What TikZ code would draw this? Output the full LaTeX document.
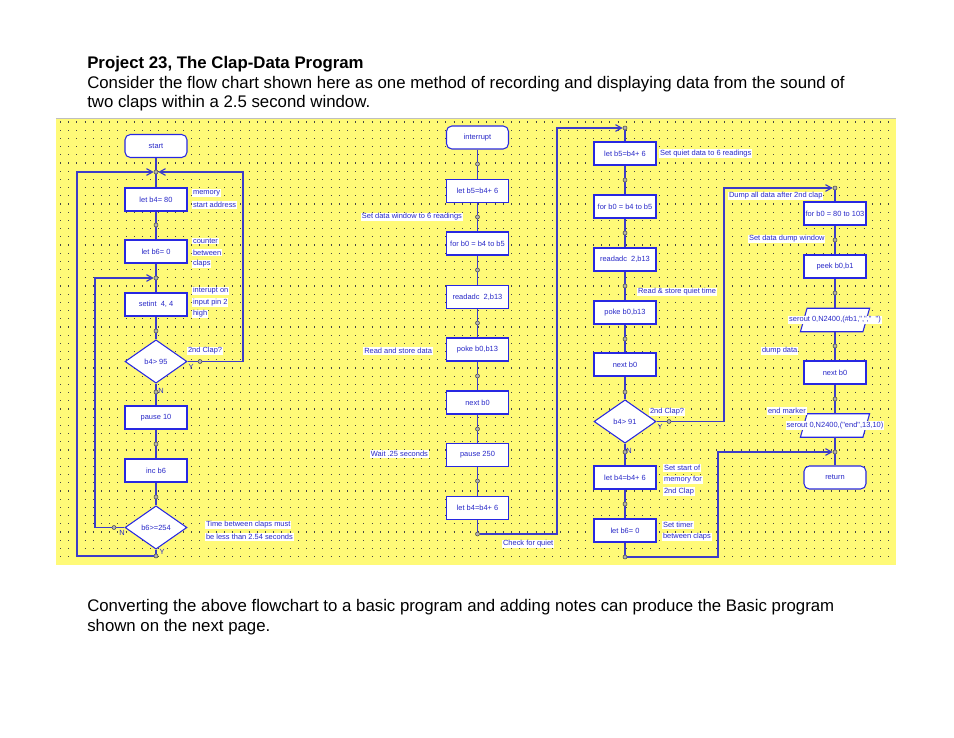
\documentclass[tikz,border=0pt]{standalone}
\usepackage{fontspec}
\setmainfont{Liberation Sans}
\usetikzlibrary{shapes.geometric,arrows.meta}
\definecolor{bgy}{RGB}{255,250,120}
\definecolor{ln}{RGB}{60,60,200}
\definecolor{bx}{RGB}{40,40,225}
\definecolor{tx}{RGB}{40,40,200}
\definecolor{dotc}{RGB}{70,70,70}
\newcommand{\dq}{\textquotedbl}
\begin{document}
\begin{tikzpicture}[x=0.75pt,y=-0.75pt,
 dfont/.style={font=\fontsize{5.6}{6.5}\selectfont},
 box/.style={draw=bx, fill=white, line width=0.8pt, minimum width=46.5pt, minimum height=17.25pt, inner sep=0pt, dfont, text=tx},
 term/.style={box, rounded corners=4pt},
 dec/.style={diamond, draw=bx, fill=white, line width=0.8pt, minimum width=46.5pt, minimum height=32.5pt, inner sep=0pt, dfont, text=tx},
 para/.style={minimum width=46.5pt, minimum height=17.25pt, inner sep=0pt},
 jn/.style={circle, draw=dotc, fill=gray!60, inner sep=0pt, minimum size=3pt, line width=0.4pt},
 conn/.style={draw=ln, line width=0.9pt},
 arr/.style={conn, -{Straight Barb[length=4.5pt,width=5pt]}},
 lab/.style={fill=white, inner sep=0.6pt, dfont, text=tx, anchor=west},
 labr/.style={lab, anchor=east},
 yn/.style={dfont, text=tx, inner sep=0pt},
 body/.style={font=\fontsize{12.6}{15}\selectfont, anchor=base west, inner sep=0pt}
]
\fill[white] (0,0) rectangle (954,738);
\useasboundingbox (0,0) rectangle (954,738);
% text
\node[body, font=\fontsize{12.6}{15}\selectfont\bfseries] (title) at (87,68.5) {Project 23, The Clap-Data Program};
\node[body] (p1) at (87,88.5) {Consider the flow chart shown here as one method of recording and displaying data from the sound of};
\node[body] (p2) at (87,107.5) {two claps within a 2.5 second window.};
\node[body] (p3) at (87,611) {Converting the above flowchart to a basic program and adding notes can produce the Basic program};
\node[body] (p4) at (87,631) {shown on the next page.};
% yellow grid
\fill[bgy] (56,118) rectangle (896,565);
\draw[gray!50, line width=1pt] (56,118.5) -- (896,118.5);
\foreach \r in {0,...,53} {
  \draw[dotc, line width=0.9pt, dash pattern=on 0.75pt off 5.4pt] (60,122+\r*8.2) -- (896,122+\r*8.2);
}
% ---------- left column
\node[term] (start) at (156,146) {start};
\node[jn] (j0) at (156,172) {};
\node[box] (b480) at (156,199.5) {let b4= 80};
\node[jn] (j1) at (156,225) {};
\node[box] (b60) at (156,251.5) {let b6= 0};
\node[jn] (j2) at (156,278) {};
\node[box] (setint) at (156,304.5) {setint\ \ 4, 4};
\node[jn] (j3) at (156,331) {};
\node[dec] (d1) at (156,361.5) {b4> 95};
\node[jn] (j4) at (156,392) {};
\node[box] (p10) at (156,417.5) {pause 10};
\node[jn] (j5) at (156,444) {};
\node[box] (inc) at (156,470.5) {inc b6};
\node[jn] (j6) at (156,497) {};
\node[dec] (d2) at (156,527.5) {b6>=254};
\node[jn] (j7) at (156,556) {};
\node[jn] (jy1) at (200,361.5) {};
\node[jn] (jn2) at (114,527.5) {};
\coordinate (c1) at (243,361.5);
\coordinate (c2) at (77,556);
\coordinate (c3) at (95,527.5);
\draw[conn] (start) -- (j0) -- (b480) -- (j1) -- (b60) -- (j2) -- (setint) -- (j3) -- (d1) -- (j4) -- (p10) -- (j5) -- (inc) -- (j6) -- (d2) -- (j7);
\draw[arr] (d1.east) -- (jy1) -- (c1) |- (j0);
\draw[arr] (j7) -- (c2) |- (j0);
\draw[arr] (d2.west) -- (jn2) -- (c3) |- (j2);
\node[lab] (l1) at (192,193) {memory};
\node[lab] (l2) at (192,205) {start address};
\node[lab] (l3) at (192,241) {counter};
\node[lab] (l4) at (192,252.5) {between};
\node[lab] (l5) at (192,264) {claps};
\node[lab] (l6) at (192,291) {interupt on};
\node[lab] (l7) at (192,302.5) {input pin 2};
\node[lab] (l8) at (192,314) {high};
\node[lab] (l9) at (187,351) {2nd Clap?};
\node[yn] (y1) at (191,367) {Y};
\node[yn] (n1) at (161,391) {N};
\node[yn] (n2) at (122,533) {N};
\node[yn] (y2) at (162,552) {Y};
\node[lab] (l10) at (205,525) {Time between claps must};
\node[lab] (l11) at (205,537) {be less than 2.54 seconds};
% ---------- middle column
\node[term] (intr) at (477.5,137.5) {interrupt};
\node[jn] (m1) at (477.5,164) {};
\node[box] (lb5) at (477.5,191) {let b5=b4+ 6};
\node[jn] (m2) at (477.5,217) {};
\node[box] (for1) at (477.5,243.5) {for b0 = b4 to b5};
\node[jn] (m3) at (477.5,270) {};
\node[box] (rd1) at (477.5,297) {readadc\ \ 2,b13};
\node[jn] (m4) at (477.5,323) {};
\node[box] (pk1) at (477.5,349.5) {poke b0,b13};
\node[jn] (m5) at (477.5,376) {};
\node[box] (nx1) at (477.5,402.5) {next b0};
\node[jn] (m6) at (477.5,429) {};
\node[box] (p250) at (477.5,455) {pause 250};
\node[jn] (m7) at (477.5,481) {};
\node[box] (lb4) at (477.5,508) {let b4=b4+ 6};
\node[jn] (m8) at (477.5,534) {};
\coordinate (c4) at (557,534);
\draw[conn] (intr) -- (m1) -- (lb5) -- (m2) -- (for1) -- (m3) -- (rd1) -- (m4) -- (pk1) -- (m5) -- (nx1) -- (m6) -- (p250) -- (m7) -- (lb4) -- (m8);
\node[labr] (l12) at (463,217) {Set data window to 6 readings};
\node[labr] (l13) at (433,351) {Read and store data};
\node[labr] (l14) at (429,454) {Wait .25 seconds};
\node[lab] (l15) at (502,544) {Check for quiet};
% ---------- right-middle column
\node[jn] (q0) at (625,128) {};
\node[box] (qb5) at (625,153.5) {let b5=b4+ 6};
\node[jn] (q1) at (625,180) {};
\node[box] (qfor) at (625,206.5) {for b0 = b4 to b5};
\node[jn] (q2) at (625,233) {};
\node[box] (qrd) at (625,259.5) {readadc\ \ 2,b13};
\node[jn] (q3) at (625,286) {};
\node[box] (qpk) at (625,312.5) {poke b0,b13};
\node[jn] (q4) at (625,339) {};
\node[box] (qnx) at (625,364.5) {next b0};
\node[jn] (q5) at (625,392) {};
\node[dec] (d3) at (625,421.5) {b4> 91};
\node[jn] (q6) at (625,452) {};
\node[box] (qlb4) at (625,477.5) {let b4=b4+ 6};
\node[jn] (q7) at (625,504) {};
\node[box] (qlb6) at (625,530.5) {let b6= 0};
\node[jn] (q8) at (625,557) {};
\node[jn] (qy) at (669,421.5) {};
\draw[arr] (m8) -- (c4) |- (q0);
\draw[conn] (q0) -- (qb5) -- (q1) -- (qfor) -- (q2) -- (qrd) -- (q3) -- (qpk) -- (q4) -- (qnx) -- (q5) -- (d3) -- (q6) -- (qlb4) -- (q7) -- (qlb6) -- (q8);
\node[lab] (l16) at (659,153.5) {Set quiet data to 6 readings};
\node[lab] (l17) at (637,292) {Read \& store quiet time};
\node[lab] (l18) at (649,412) {2nd Clap?};
\node[yn] (y3) at (660,427) {Y};
\node[yn] (n3) at (629,451) {N};
\node[lab] (l19) at (663,468) {Set start of};
\node[lab] (l20) at (663,480) {memory for};
\node[lab] (l21) at (663,491.5) {2nd Clap};
\node[lab] (l22) at (662,525) {Set timer};
\node[lab] (l23) at (662,537) {between claps};
% ---------- right column
\node[jn] (r0) at (835,188) {};
\node[box] (rfor) at (835,213.5) {for b0 = 80 to 103};
\node[jn] (r1) at (835,240) {};
\node[box] (rpk) at (835,266.5) {peek b0,b1};
\node[jn] (r2) at (835,293) {};
\node[para] (ser1) at (835,320) {};
\node[jn] (r3) at (835,346) {};
\node[box] (rnx) at (835,372.5) {next b0};
\node[jn] (r4) at (835,399) {};
\node[para] (ser2) at (835,425.5) {};
\node[jn] (r9) at (835,452) {};
\node[term] (ret) at (835,477.5) {return};
\foreach \s in {ser1,ser2} {
  \filldraw[draw=bx, fill=white, line width=0.8pt] ([xshift=2.5pt]\s.north west) -- ([xshift=2.5pt]\s.north east) -- ([xshift=-2.5pt]\s.south east) -- ([xshift=-2.5pt]\s.south west) -- cycle;
}
\node[lab, anchor=center] (ts1) at (ser1) {serout 0,N2400,(\#b1,\dq,\dq,\dq\ \ \dq)};
\node[lab, anchor=center] (ts2) at (ser2) {serout 0,N2400,(\dq end\dq,13,10)};
\coordinate (c5) at (724,421.5);
\coordinate (c6) at (718,557);
\draw[arr] (d3.east) -- (qy) -- (c5) |- (r0);
\draw[arr] (q8) -- (c6) |- (r9);
\draw[conn] (r0) -- (rfor) -- (r1) -- (rpk) -- (r2) -- (ser1) -- (r3) -- (rnx) -- (r4) -- (ser2) -- (r9) -- (ret);
\node[lab] (l24) at (728,196) {Dump all data after 2nd clap};
\node[lab] (l25) at (748,239) {Set data dump window};
\node[lab] (l26) at (761,351) {dump data};
\node[lab] (l27) at (767,411) {end marker};
\end{tikzpicture}
\end{document}
